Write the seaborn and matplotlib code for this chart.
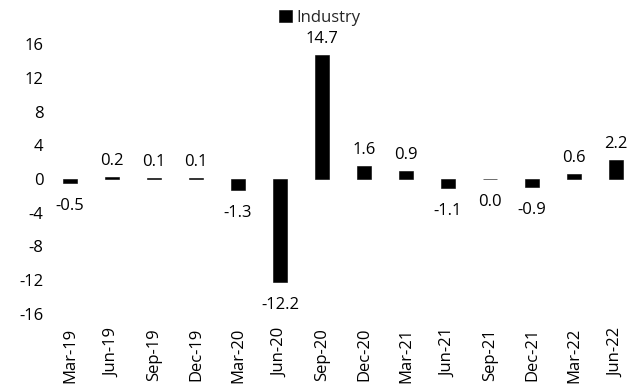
import matplotlib
matplotlib.use("Agg")
import matplotlib.pyplot as plt
import seaborn as sns
import pandas as pd

# Quarterly change, industry
quarters = ["Mar-19", "Jun-19", "Sep-19", "Dec-19", "Mar-20", "Jun-20", "Sep-20",
            "Dec-20", "Mar-21", "Jun-21", "Sep-21", "Dec-21", "Mar-22", "Jun-22"]
industry = [-0.5, 0.2, 0.1, 0.1, -1.3, -12.2, 14.7, 1.6, 0.9, -1.1, 0.0, -0.9, 0.6, 2.2]
y_ticks = [-16, -12, -8, -4, 0, 4, 8, 12, 16]
series_name = "Industry"

sns.set_theme(style="white")
plt.rcParams["font.family"] = ["Open Sans", "DejaVu Sans"]
plt.rcParams["font.size"] = 12

df = pd.DataFrame({"quarter": quarters, "value": industry})

fig = plt.figure(figsize=(6.43, 3.90), dpi=100)
ax = fig.add_axes([49 / 643, 1 - 314 / 390, (637 - 49) / 643, (314 - 44) / 390])

sns.barplot(data=df, x="quarter", y="value", color="black", saturation=1,
            width=0.33, edgecolor="black", linewidth=0.4, ax=ax, label=series_name)

ax.set_ylim(-16, 16)
ax.set_yticks(y_ticks)
ax.set_yticklabels([str(t) for t in y_ticks], fontsize=12, color="black")
ax.set_xlabel("")
ax.set_ylabel("")
ax.tick_params(axis="x", length=0, pad=10, labelsize=12, labelcolor="black")
ax.tick_params(axis="y", length=0, pad=4)
plt.setp(ax.get_xticklabels(), rotation=90)
for s in ax.spines.values():
    s.set_visible(False)

# Value labels above positive bars, below the others
for i, v in enumerate(industry):
    off = 11.5 if v > 0 else -16.5
    ax.annotate(f"{v:.1f}", xy=(i, v), xytext=(0, off), textcoords="offset points",
                ha="center", va="center", fontsize=12, color="black")

leg = ax.legend(loc="upper center", bbox_to_anchor=(320 / 643, 1.0), bbox_transform=fig.transFigure,
                frameon=False, handlelength=0.75, handleheight=0.75, handletextpad=0.3,
                fontsize=12, borderaxespad=0.2)

fig.savefig("out.png", dpi=100)
